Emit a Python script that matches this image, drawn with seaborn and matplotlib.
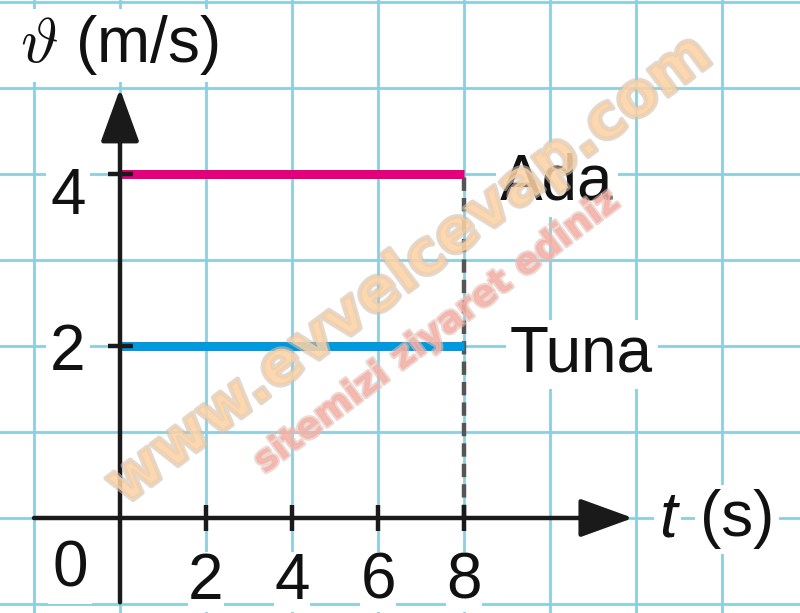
import matplotlib
matplotlib.use("Agg")
import matplotlib.pyplot as plt
import matplotlib.patheffects as pe
import numpy as np
import pandas as pd
import seaborn as sns

# === Data ===
time_s = [0, 8]
ada_speed = [4, 4]
tuna_speed = [2, 2]
names = ["Ada", "Tuna"]
x_ticks = [2, 4, 6, 8]
y_ticks = [2, 4]

# === Style ===
sns.set_style("white")
plt.rcParams["font.family"] = ["Liberation Sans", "DejaVu Sans"]
plt.rcParams["text.color"] = "#111111"

df = pd.DataFrame({
    "t": time_s + time_s,
    "v": ada_speed + tuna_speed,
    "who": [names[0]] * len(time_s) + [names[1]] * len(time_s),
})

fig = plt.figure(figsize=(8, 6.13), dpi=100)
ax = fig.add_axes([0, 0, 1, 1])
ax.set_xlim(-120 / 43, 680 / 43)
ax.set_ylim(-95 / 86, 518 / 86)

# graph paper grid
ax.set_xticks(np.arange(-2, 16, 2))
ax.set_yticks(np.arange(-1, 7, 1))
ax.grid(True, color="#8ccfe0", lw=2.0)
ax.tick_params(length=0, labelbottom=False, labelleft=False)
for s in ax.spines.values():
    s.set_visible(False)
ax.set_axisbelow(True)

# === Lines ===
sns.lineplot(data=df, x="t", y="v", hue="who",
             palette={"Ada": "#e4007c", "Tuna": "#0099dd"},
             lw=6.5, legend=False, ax=ax, zorder=4,
             solid_capstyle="butt")
ax.plot([time_s[-1], time_s[-1]], [0, ada_speed[-1]], color="#555555",
        lw=3.2, dashes=(3.0, 1.6), zorder=3)
ax.set_xlabel("")
ax.set_ylabel("")

# === Axes with arrows ===
axis_col = "#1a1a1a"
arrow = dict(arrowstyle="-|>,head_length=0.55,head_width=0.2", mutation_scale=60,
             lw=3.2, color=axis_col, shrinkA=0, shrinkB=0)
ax.annotate("", xy=(11.93, 0), xytext=(-2, 0), arrowprops=arrow, zorder=5)
ax.annotate("", xy=(0, 4.99), xytext=(0, -0.98), arrowprops=arrow, zorder=5)
ax.vlines(x_ticks, -0.15, 0.15, color=axis_col, lw=3.2, zorder=5)
ax.hlines(y_ticks, -0.28, 0.3, color=axis_col, lw=3.2, zorder=5)

# === Text ===
fs = 46
box = dict(fc="white", ec="none", pad=3)
for xt in x_ticks:
    ax.text(xt, -0.94, str(xt), fontsize=fs, ha="center", va="baseline",
            bbox=dict(fc="white", ec="none", pad=0), zorder=6)
ax.text(-1.16, -0.80, "0", fontsize=fs, ha="center", va="baseline", bbox=box, zorder=6)
ax.text(-1.21, 3.535, "4", fontsize=fs, ha="center", va="baseline", bbox=box, zorder=6)
ax.text(-1.21, 1.72, "2", fontsize=fs, ha="center", va="baseline", bbox=box, zorder=6)
ax.text(8.84, 3.70, names[0], fontsize=fs, ha="left", va="baseline", bbox=box, zorder=6)
ax.text(9.07, 1.70, names[1], fontsize=fs, ha="left", va="baseline", bbox=box, zorder=6)

ax.text(-2.33, 5.30, r"$\vartheta$ (m/s)", fontsize=fs, ha="left", va="baseline",
        math_fontfamily="cm", bbox=box, zorder=6)
ax.text(12.74, -0.21, "t", fontsize=fs, fontstyle="italic", ha="center", va="baseline",
        bbox=box, zorder=6)
ax.text(14.35, -0.21, "(s)", fontsize=fs, ha="center", va="baseline", bbox=box, zorder=6)

# === Watermark ===
ax.text(6.74, 2.88, "www.evvelcevap.com", fontsize=44, fontweight="bold",
        family="DejaVu Sans", color="#fbd3a6", alpha=0.65, rotation=37,
        rotation_mode="anchor", ha="center", va="center", zorder=7,
        path_effects=[pe.withStroke(linewidth=3.5, foreground="#d2bfad", alpha=0.6)])
ax.text(7.37, 2.17, "sitemizi ziyaret ediniz", fontsize=26, fontweight="bold",
        family="DejaVu Sans", color="#f6afa5", alpha=0.65, rotation=37,
        rotation_mode="anchor", ha="center", va="center", zorder=7,
        path_effects=[pe.withStroke(linewidth=3, foreground="#e4bdb5", alpha=0.6)])

plt.savefig("out.png", dpi=100)
plt.close()
